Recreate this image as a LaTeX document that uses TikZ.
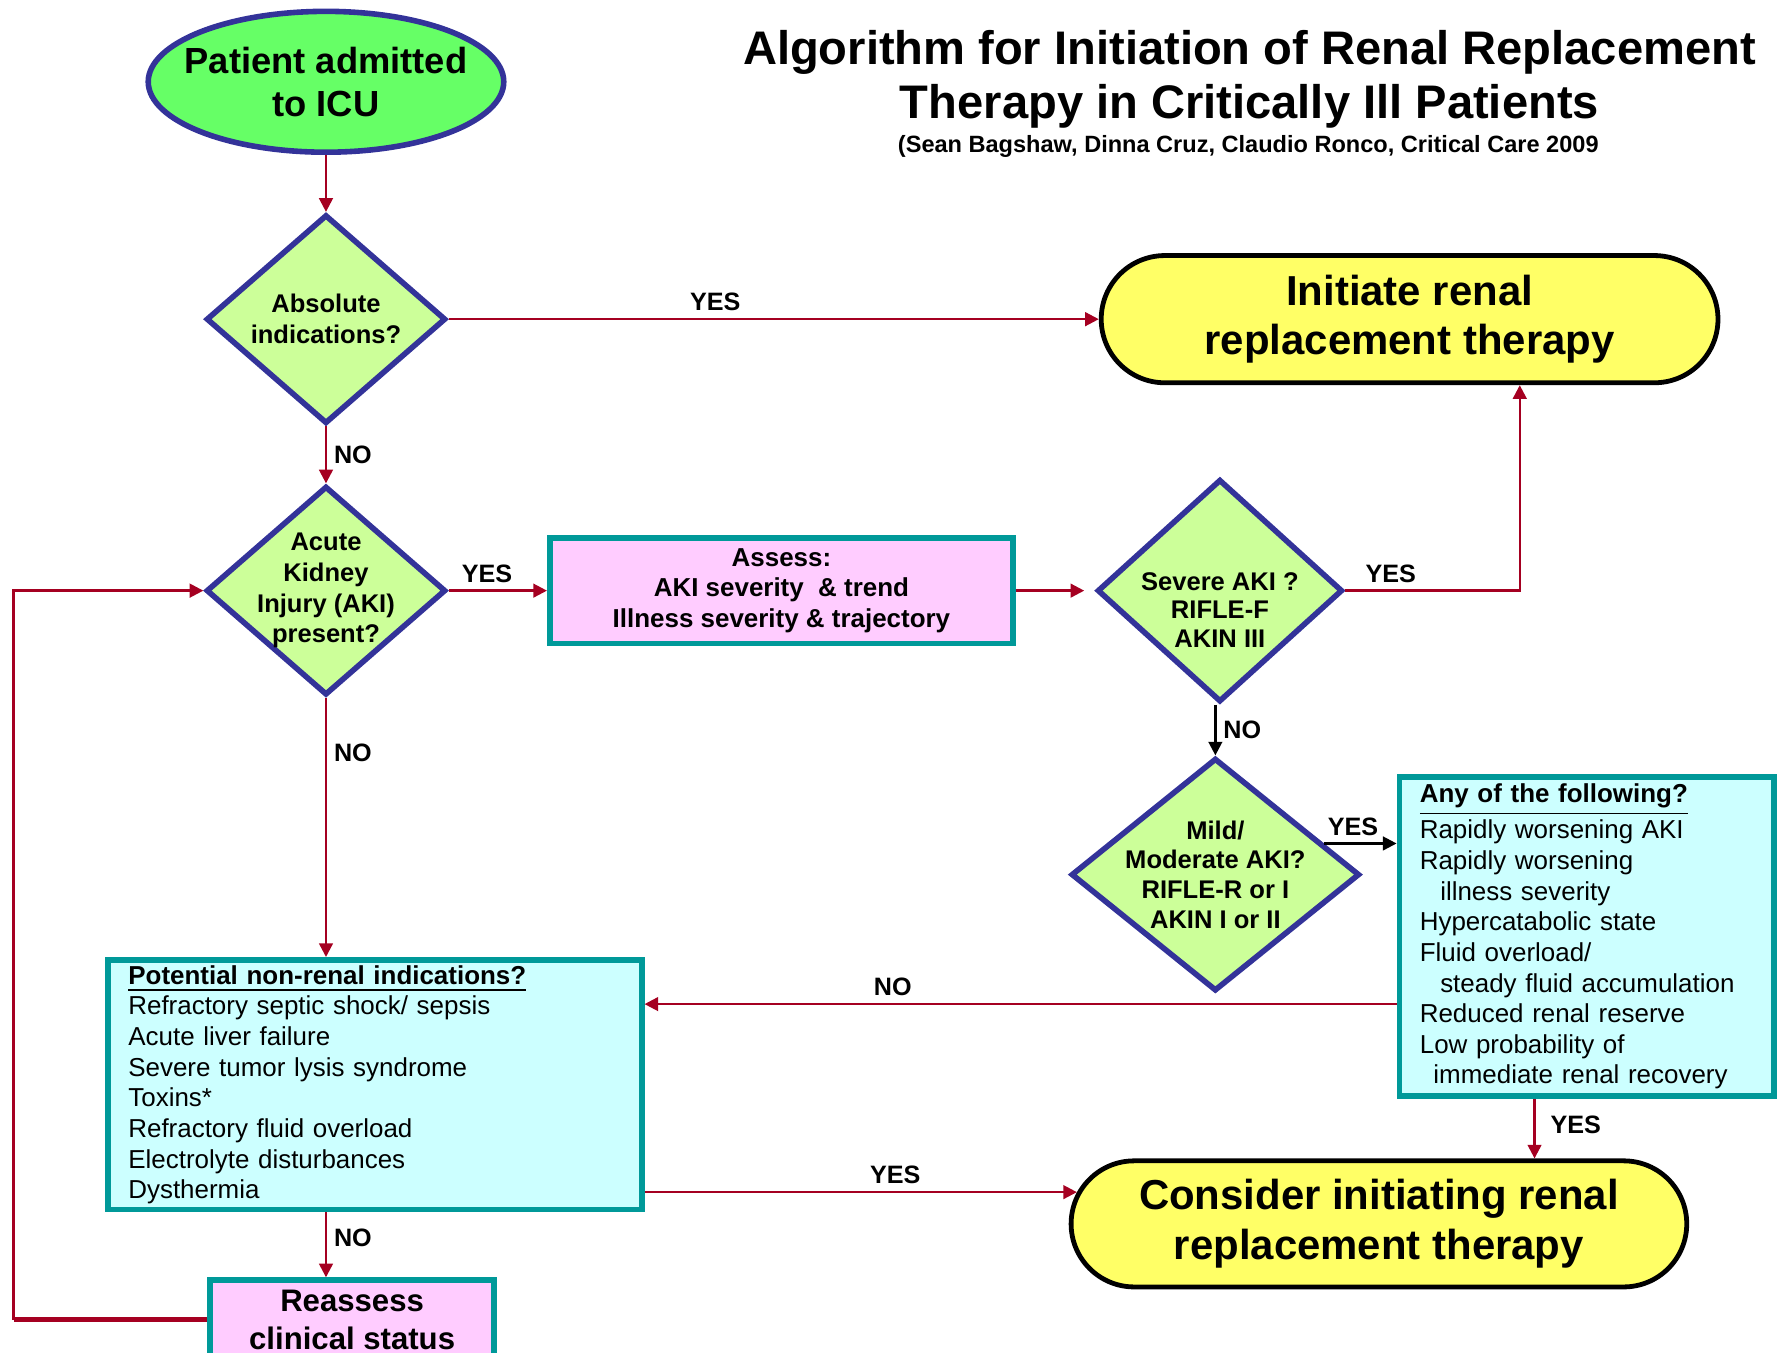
\documentclass[tikz,border=0pt]{standalone}
\usepackage{fontspec}
\setmainfont{Liberation Sans}
\usetikzlibrary{shapes.geometric, shapes.misc, arrows.meta, positioning}
\definecolor{flowred}{HTML}{A50021}
\definecolor{decisionblue}{HTML}{333399}
\definecolor{startgreen}{HTML}{66FF66}
\definecolor{decisiongreen}{HTML}{CCFF99}
\definecolor{outcomeyellow}{HTML}{FFFF66}
\definecolor{assesspink}{HTML}{FFCCFF}
\definecolor{listcyan}{HTML}{CCFFFF}
\definecolor{boxteal}{HTML}{009999}
\newcommand{\fsz}[2]{\fontsize{#1}{#2}\selectfont}

\begin{document}
\begin{tikzpicture}[>={Triangle[length=1.2mm,width=1.2mm]},
  flow/.style={->, flowred, line width=0.6pt},
  blackflow/.style={->, black, line width=0.6pt},
  decision/.style={diamond, draw=decisionblue, fill=decisiongreen, line width=1.4pt, inner sep=0pt},
  dtext/.style={align=center, font=\fsz{6.4}{7.7}\bfseries, inner sep=0pt},
  outcome/.style={rounded rectangle, draw=black, fill=outcomeyellow, line width=1.2pt, inner xsep=0pt,
    align=center, font=\fsz{10.5}{12.5}\bfseries},
  pinkbox/.style={rectangle, draw=boxteal, fill=assesspink, line width=1.4pt, align=center, inner ysep=0.5pt},
  listbox/.style={rectangle, draw=boxteal, fill=listcyan, line width=1.4pt, align=left,
    inner xsep=1.8mm, inner ysep=0.3mm, font=\fsz{6.5}{7.68}},
  lbl/.style={text=black, font=\fsz{6.3}{7}\bfseries, inner sep=0.6mm}]
  \useasboundingbox (0,0) rectangle (15.68,11.91);

  % Title
  \node[align=center, font=\fsz{11.8}{13.66}\bfseries] (title) at (11.00,11.21)
    {Algorithm for Initiation of Renal Replacement\\Therapy in Critically Ill Patients};
  \node[font=\fsz{5.9}{7}\bfseries] (cite) at (10.99,10.62)
    {(Sean Bagshaw, Dinna Cruz, Claudio Ronco, Critical Care 2009};

  % Start
  \node[ellipse, draw=decisionblue, fill=startgreen, line width=1.4pt, inner sep=0pt,
        minimum width=3.13cm, minimum height=1.24cm] (start) at (2.87,11.19) {};
  \node[dtext, font=\fsz{9.1}{10.8}\bfseries] (starttxt) at (start) {Patient admitted\\to ICU};

  % Decisions
  \node[decision, minimum width=2.11cm, minimum height=1.84cm] (abs) at (2.87,9.10) {};
  \node[dtext] (abstxt) at (abs) {Absolute\\indications?};
  \node[decision, minimum width=2.11cm, minimum height=1.84cm] (aki) at (2.87,6.71) {};
  \node[dtext] (akitxt) at (aki) {Acute\\Kidney\\Injury (AKI)\\present?};
  \node[decision, minimum width=2.16cm, minimum height=1.96cm] (severe) at (10.74,6.71) {};
  \node[dtext, font=\fsz{6.4}{7.1}\bfseries] (severetxt) at ([yshift=-1.7mm]severe.center) {Severe AKI ?\\RIFLE-F\\AKIN III};
  \node[decision, minimum width=2.54cm, minimum height=2.05cm] (mild) at (10.70,4.21) {};
  \node[dtext, font=\fsz{6.4}{7.4}\bfseries] (mildtxt) at (mild) {Mild/\\Moderate AKI?\\RIFLE-R or I\\AKIN I or II};

  % Boxes
  \node[pinkbox, minimum width=4.08cm, minimum height=0.93cm, font=\fsz{6.5}{7.7}\bfseries] (assess) at (6.88,6.71)
    {Assess:\\AKI severity \ \& trend\\Illness severity \& trajectory};
  \node[listbox, text width=4.34cm, minimum height=2.20cm] (potential) at (3.30,2.36)
    {\underline{\textbf{Potential non-renal indications?}}\\Refractory septic shock/ sepsis\\Acute liver failure\\
     Severe tumor lysis syndrome\\Toxins*\\Refractory fluid overload\\Electrolyte disturbances\\Dysthermia};
  \node[listbox, text width=2.94cm, minimum height=2.81cm] (any) at (13.97,3.665)
    {\underline{\textbf{Any of the following?}}\\Rapidly worsening AKI\\Rapidly worsening\\\hspace*{1.8mm}illness severity\\
     Hypercatabolic state\\Fluid overload/\\\hspace*{1.8mm}steady fluid accumulation\\Reduced renal reserve\\
     Low probability of\\\hspace*{1.2mm}immediate renal recovery};
  \node[pinkbox, minimum width=2.50cm, minimum height=0.70cm, font=\fsz{7.8}{9.7}\bfseries] (reassess) at (3.10,0.29)
    {Reassess\\clinical status};

  % Outcomes
  \node[outcome, minimum width=5.43cm, minimum height=1.12cm] (initiate) at (12.41,9.10)
    {Initiate renal\\replacement therapy};
  \node[outcome, minimum width=5.42cm, minimum height=1.11cm] (consider) at (12.14,1.135)
    {Consider initiating renal\\replacement therapy};

  % Connectors
  \draw[flow] (start) -- (abs);
  \draw[flow] (abs.east) -- node[lbl, above, pos=0.41] (yes1) {YES} (initiate.west);
  \draw[flow] (abs.south) -- node[lbl, right] (no1) {NO} (aki.north);
  \draw[flow] (aki.east) -- node[lbl, above, pos=0.39] (yes2) {YES} (assess.west);
  \draw[flow, shorten >=0.9mm] (assess.east) -- (severe.west);
  \draw[flow] (severe.east) -| node[lbl, above, pos=0.13] (yes3) {YES} ([xshift=9.7mm]initiate.south);
  \draw[blackflow] (mild.north |- severe.south) -- node[lbl, right] (no2) {NO} (mild.north);
  \draw[blackflow] (mild.16) -- node[lbl, above, pos=0.4] (yes4) {YES} (mild.16 -| any.west);
  \draw[flow] (aki.south) -- node[lbl, right, pos=0.21] (no3) {NO} (aki.south |- potential.north);
  \coordinate (norow) at (0,3.07);
  \draw[flow] (any.west |- norow) -- node[lbl, above, pos=0.67] (no4) {NO} (potential.east |- norow);
  \draw[flow] ([xshift=-4.6mm]any.south) -- node[lbl, right=0.7mm, pos=0.44] (yes5) {YES}
    ([xshift=-4.6mm]any.south |- consider.north);
  \draw[flow] (potential.east |- consider.174) -- node[lbl, above, pos=0.58] (yes6) {YES} (consider.174);
  \draw[flow] (aki.south |- potential.south) -- node[lbl, right, pos=0.39] (no5) {NO} (aki.south |- reassess.north);

  % Loop back to AKI
  \coordinate (loop) at (0.12,0);
  \draw[flowred, line width=1.3pt] (reassess.west) -- (reassess.west -| loop);
  \draw[flow] (reassess.west -| loop) |- (aki.west);
\end{tikzpicture}
\end{document}
